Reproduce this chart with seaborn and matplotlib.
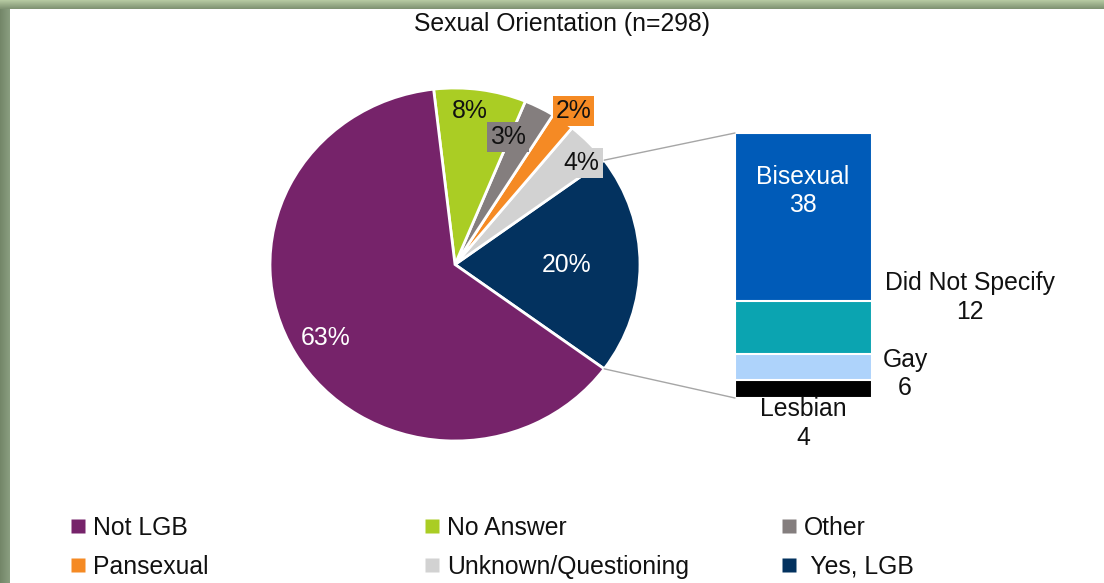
import numpy as np
import matplotlib
matplotlib.use("Agg")
import matplotlib.pyplot as plt
from matplotlib.colors import LinearSegmentedColormap
from matplotlib.patches import ConnectionPatch
from matplotlib.lines import Line2D
import seaborn as sns

# ---- data -------------------------------------------------------------
categories = ["Yes, LGB", "Unknown/Questioning", "Pansexual", "Other", "No Answer", "Not LGB"]
counts = [60, 12, 6, 8, 24, 188]
lgb_groups = ["Bisexual", "Did Not Specify", "Gay", "Lesbian"]
lgb_counts = [38, 12, 6, 4]
title = "Sexual Orientation (n=298)"

# ---- styling ----------------------------------------------------------
pie_colors = {
    "Not LGB": "#76236A",
    "No Answer": "#AACD24",
    "Other": "#847E7E",
    "Pansexual": "#F58A24",
    "Unknown/Questioning": "#D2D2D2",
    "Yes, LGB": "#03325F",
}
bar_colors = {
    "Bisexual": "#005BB8",
    "Did Not Specify": "#0BA4B1",
    "Gay": "#AED3FB",
    "Lesbian": "#000000",
}
FS = 17.8
TXT = "#111111"

sns.set_theme(style="white")
plt.rcParams["font.family"] = ["Liberation Sans", "DejaVu Sans"]

W, H = 1104, 583
fig = plt.figure(figsize=(W / 100, H / 100), dpi=100)
fig.patch.set_facecolor("white")

# ---- pie (slightly wider than tall) ----------------------------------
pcx, pcy, rx, ry = 455, 264.5, 185, 176.5
pax = fig.add_axes([(pcx - rx) / W, (H - pcy - ry) / H, 2 * rx / W, 2 * ry / H])

total = sum(counts)
split_span = counts[0] / total * 360.0
start = -split_span / 2

pax.pie(
    counts,
    colors=[pie_colors[c] for c in categories],
    startangle=start,
    counterclock=True,
    radius=1,
    wedgeprops=dict(edgecolor="white", linewidth=2),
)
pax.set_aspect("auto")
pax.set_xlim(-1, 1)
pax.set_ylim(-1, 1)
pax.axis("off")

# percentage labels, positions in pie units
label_pos = [(0.604, 0.0), (0.685, 0.575), (0.640, 0.868),
             (0.288, 0.722), (0.081, 0.868), (-0.699, -0.416)]
boxed = {"Unknown/Questioning", "Pansexual", "Other"}
white_text = {"Yes, LGB", "Not LGB"}
for cat, n, (u, v) in zip(categories, counts, label_pos):
    kw = {}
    if cat in boxed:
        kw["bbox"] = dict(boxstyle="square,pad=0.12", fc=pie_colors[cat], ec="none")
    pax.text(u, v, f"{round(100 * n / total)}%", ha="center", va="center",
             fontsize=FS, color="white" if cat in white_text else TXT, **kw)

# ---- stacked breakdown bar -------------------------------------------
bx0, bx1, by_top, by_bot = 735, 872, 133, 398
bax = fig.add_axes([bx0 / W, (H - by_bot) / H, (bx1 - bx0) / W, (by_bot - by_top) / H])
# stack from the bottom: Lesbian, Gay, Did Not Specify, Bisexual
stack_order = lgb_groups[::-1]
tops = np.cumsum([lgb_counts[lgb_groups.index(g)] for g in stack_order])
for g, top in sorted(zip(stack_order, tops), key=lambda p: -p[1]):
    sns.barplot(x=["LGB"], y=[top], color=bar_colors[g], width=1, saturation=1,
                edgecolor="white", linewidth=1.5, errorbar=None, ax=bax)
bax.set_xlim(-0.5, 0.5)
bax.set_ylim(0, sum(lgb_counts))
bax.axis("off")

# connector lines from the split slice to the bar
for ang_deg, corner_y in [(start + split_span, sum(lgb_counts)), (start, 0)]:
    a = np.deg2rad(ang_deg)
    con = ConnectionPatch(xyA=(np.cos(a), np.sin(a)), coordsA=pax.transData,
                          xyB=(-0.5, corner_y), coordsB=bax.transData,
                          color="#A6A6A6", lw=1)
    fig.add_artist(con)

# group labels (pixel positions of label centres)
group_label_xy = {
    "Bisexual": (803, 191),
    "Did Not Specify": (970, 297.5),
    "Gay": (905, 374),
    "Lesbian": (803, 423.5),
}
for g, n in zip(lgb_groups, lgb_counts):
    x, y = group_label_xy[g]
    fig.text(x / W, 1 - y / H, f"{g}\n{n}", ha="center", va="center", fontsize=FS,
             linespacing=1.24, color="white" if g == "Bisexual" else TXT)

# ---- title ------------------------------------------------------------
fig.text(562.5 / W, 1 - 23.5 / H, title, ha="center", va="center", fontsize=FS, color=TXT)

# ---- legend: three columns -------------------------------------------
legend_cols = [
    (["Not LGB", "Pansexual"], 71),
    (["No Answer", "Unknown/Questioning"], 425),
    (["Other", "Yes, LGB"], 782),
]
for cats, x in legend_cols:
    handles = [Line2D([], [], marker="s", linestyle="none", markersize=9.4,
                      markerfacecolor=pie_colors[c], markeredgecolor="none") for c in cats]
    labels = [(" " + c) if c == "Yes, LGB" else c for c in cats]
    leg = fig.legend(handles, labels, loc="upper left",
                     bbox_to_anchor=(x / W, (H - 516) / H), frameon=False,
                     fontsize=FS, handlelength=0.6, handletextpad=0.3,
                     borderpad=0, borderaxespad=0, labelspacing=0.6)
    for t in leg.get_texts():
        t.set_color(TXT)

# ---- green frame on top and left edges --------------------------------
top_cmap = LinearSegmentedColormap.from_list("top", ["#B7CBA3", "#7E9171"])
left_cmap = LinearSegmentedColormap.from_list("left", ["#738668", "#8A9E80"])
tax = fig.add_axes([0, (H - 9) / H, 1, 9 / H])
tax.imshow(np.linspace(0, 1, 32).reshape(-1, 1), aspect="auto", cmap=top_cmap)
tax.axis("off")
lax = fig.add_axes([0, 0, 10 / W, (H - 9) / H])
lax.imshow(np.linspace(0, 1, 32).reshape(1, -1), aspect="auto", cmap=left_cmap)
lax.axis("off")

fig.savefig("out.png", dpi=100, facecolor="white")
